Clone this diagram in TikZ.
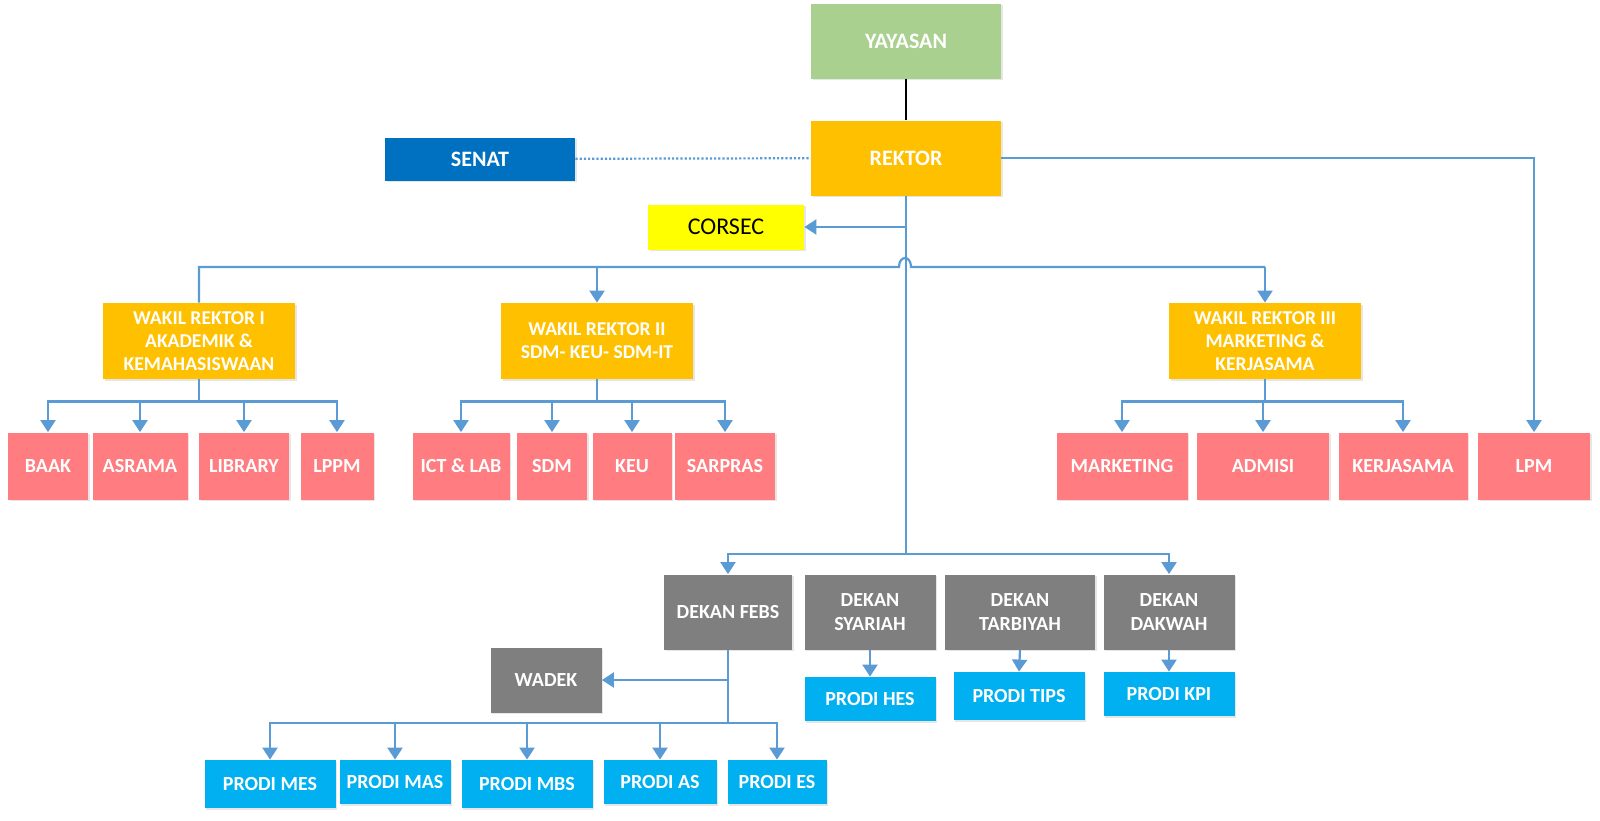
\documentclass[tikz,border=0pt]{standalone}
\usepackage{fontspec}
\setmainfont{Carlito}
\usepackage{xcolor}
\usetikzlibrary{arrows.meta,shadows}

\definecolor{yayGreen}{HTML}{A9D08E}
\definecolor{rekGold}{HTML}{FFC000}
\definecolor{senBlue}{HTML}{0070C0}
\definecolor{corYellow}{HTML}{FFFF00}
\definecolor{unitPink}{HTML}{FF7C80}
\definecolor{dekGray}{HTML}{7F7F7F}
\definecolor{prodiBlue}{HTML}{00B0F0}
\definecolor{lineBlue}{HTML}{5B9BD5}

\tikzset{
  box/.style={fill=#1, text=white, inner sep=0pt, align=center,
    font=\fontsize{10}{12}\selectfont\bfseries,
    drop shadow={shadow xshift=0.8pt, shadow yshift=-0.8pt, opacity=0.2}},
  topbox/.style={box=#1, font=\fontsize{11}{13}\selectfont\bfseries},
  wrbox/.style={box=rekGold, font=\fontsize{9.8}{11.6}\selectfont\bfseries,
    minimum width=96pt, minimum height=38pt},
  unitbox/.style={box=unitPink, minimum height=33.5pt},
  dekanbox/.style={box=dekGray, minimum height=37.5pt},
  prodibox/.style={box=prodiBlue},
  link/.style={draw=lineBlue, line width=1.1pt},
  arr/.style={link, -{Triangle[width=7.5pt,length=6pt]}},
}

\begin{document}
\begin{tikzpicture}[x=0.5pt,y=-0.5pt]
  \useasboundingbox (0,0) rectangle (1600,820);

  % pimpinan
  \node[topbox=yayGreen, minimum width=95pt, minimum height=37.5pt] (yayasan) at (906,41) {YAYASAN};
  \node[topbox=rekGold, minimum width=95pt, minimum height=37.5pt] (rektor) at (906,158) {REKTOR};
  \node[topbox=senBlue, minimum width=95pt, minimum height=21.5pt] (senat) at (480,159) {SENAT};
  \node[box=corYellow, text=black, font=\fontsize{12}{14}\selectfont,
        minimum width=78pt, minimum height=22.5pt] (corsec) at (726,227) {CORSEC};

  % wakil rektor
  \node[wrbox] (wr1) at (199,341) {WAKIL REKTOR I\\AKADEMIK \&\\KEMAHASISWAAN};
  \node[wrbox] (wr2) at (597,341) {WAKIL REKTOR II\\SDM- KEU- SDM-IT};
  \node[wrbox] (wr3) at (1265,341) {WAKIL REKTOR III\\MARKETING \&\\KERJASAMA};

  % unit
  \node[unitbox, minimum width=40pt] (baak) at (48,466) {BAAK};
  \node[unitbox, minimum width=47.5pt] (asrama) at (140,466) {ASRAMA};
  \node[unitbox, minimum width=45pt] (library) at (244,466) {LIBRARY};
  \node[unitbox, minimum width=36.5pt] (lppm) at (337,466) {LPPM};
  \node[unitbox, minimum width=48.5pt] (ict) at (461,466) {ICT \& LAB};
  \node[unitbox, minimum width=35pt] (sdm) at (552,466) {SDM};
  \node[unitbox, minimum width=39.5pt] (keu) at (632,466) {KEU};
  \node[unitbox, minimum width=50pt] (sarpras) at (725,466) {SARPRAS};
  \node[unitbox, minimum width=65.5pt] (marketing) at (1122,466) {MARKETING};
  \node[unitbox, minimum width=66pt] (admisi) at (1263,466) {ADMISI};
  \node[unitbox, minimum width=64.5pt] (kerjasama) at (1403,466) {KERJASAMA};
  \node[unitbox, minimum width=56pt] (lpm) at (1534,466) {LPM};

  % fakultas
  \node[dekanbox, minimum width=64pt] (febs) at (728,612) {DEKAN FEBS};
  \node[dekanbox, minimum width=65.5pt] (syariah) at (870,612) {DEKAN\\SYARIAH};
  \node[dekanbox, minimum width=75pt] (tarbiyah) at (1020,612) {DEKAN\\TARBIYAH};
  \node[dekanbox, minimum width=65.5pt] (dakwah) at (1169,612) {DEKAN\\DAKWAH};
  \node[box=dekGray, minimum width=55.5pt, minimum height=32.5pt] (wadek) at (546,680) {WADEK};

  % prodi
  \node[prodibox, minimum width=65.5pt, minimum height=22pt] (hes) at (870,699) {PRODI HES};
  \node[prodibox, minimum width=65.5pt, minimum height=24pt] (tips) at (1019,696) {PRODI TIPS};
  \node[prodibox, minimum width=65.5pt, minimum height=22pt] (kpi) at (1169,694) {PRODI KPI};
  \node[prodibox, minimum width=65.5pt, minimum height=24pt] (mes) at (270,784) {PRODI MES};
  \node[prodibox, minimum width=55.5pt, minimum height=22pt] (mas) at (395,782) {PRODI MAS};
  \node[prodibox, minimum width=65.5pt, minimum height=24pt] (mbs) at (527,784) {PRODI MBS};
  \node[prodibox, minimum width=56.5pt, minimum height=22pt] (as) at (660,782) {PRODI AS};
  \node[prodibox, minimum width=49.5pt, minimum height=22pt] (es) at (777,782) {PRODI ES};

  \coordinate (topbus) at (0,267);
  \coordinate (hopL) at (899,267);
  \coordinate (hopR) at (911,267);
  \coordinate (dekbus) at (0,554);
  \coordinate (febsbus) at (0,723);

  % garis
  \draw[black, line width=0.6pt] (yayasan) -- (rektor);
  \draw[lineBlue, line width=1.1pt, densely dotted] (senat) -- (rektor);
  \draw[link] (rektor.south) -- (rektor.south |- dekbus);
  \draw[arr] (rektor.south |- corsec.east) -- (corsec.east);
  \draw[arr] (rektor.east) -| (lpm.north);
  \draw[link] (wr1.north) -- (wr1.north |- topbus) -- (hopL)
    .. controls +(0,-12) and +(0,-12) .. (hopR) -- (wr3.north |- topbus);
  \draw[arr] (wr2.north |- topbus) -- (wr2.north);
  \draw[arr] (wr3.north |- topbus) -- (wr3.north);

  \foreach \u in {baak,asrama,library,lppm}
    \draw[arr] (wr1.south) -- ++(0,22) -| (\u.north);
  \foreach \u in {ict,sdm,keu,sarpras}
    \draw[arr] (wr2.south) -- ++(0,22) -| (\u.north);
  \foreach \u in {marketing,admisi,kerjasama}
    \draw[arr] (wr3.south) -- ++(0,22) -| (\u.north);

  \foreach \d in {febs,dakwah}
    \draw[arr] (rektor.south |- dekbus) -| (\d.north);
  \draw[arr] (syariah.south) -- (hes.north);
  \draw[arr] (tarbiyah.south) -- (tips.north);
  \draw[arr] (dakwah.south) -- (kpi.north);

  \draw[arr] (febs.south |- wadek.east) -- (wadek.east);
  \foreach \p in {mes,mas,mbs,as,es}
    \draw[arr] (febs.south) -- (febs.south |- febsbus) -| (\p.north);
\end{tikzpicture}
\end{document}
